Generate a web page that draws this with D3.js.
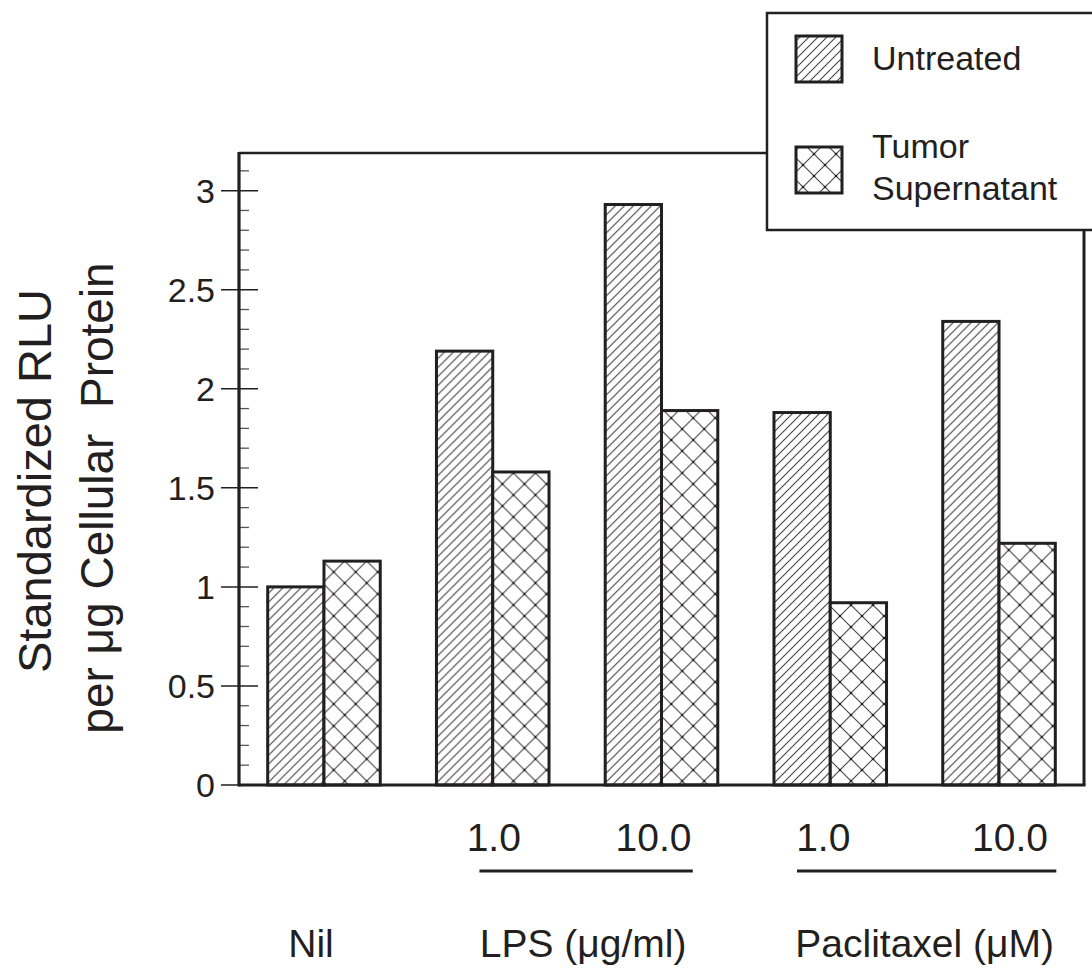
<!DOCTYPE html>
<html><head><meta charset="utf-8">
<script src="https://cdn.jsdelivr.net/npm/d3@7"></script>
<style>
html,body{margin:0;padding:0;background:#fff;}
svg text{font-family:"Liberation Sans",Arial,Helvetica,sans-serif;fill:#231f20;}
</style></head>
<body>
<svg id="chart" width="1092" height="968"></svg>
<script>
// ---- data ----
const categories = ["Nil", "LPS 1.0", "LPS 10.0", "Paclitaxel 1.0", "Paclitaxel 10.0"];
const seriesNames = ["Untreated", "Tumor Supernatant"];
const untreated = [1.00, 2.19, 2.93, 1.88, 2.34];
const tumorSupernatant = [1.13, 1.58, 1.89, 0.92, 1.22];
const doseLabels = ["", "1.0", "10.0", "1.0", "10.0"];
const groupLabels = ["Nil", "LPS (\u03bcg/ml)", "Paclitaxel (\u03bcM)"];
const groupMembers = [[0], [1, 2], [3, 4]];
const yTicks = [0, 0.5, 1, 1.5, 2, 2.5, 3];
const yTickLabels = ["0", "0.5", "1", "1.5", "2", "2.5", "3"];

(function () {
// ---- layout ----
const ink = "#231f20";
const pLeft = 239, pRight = 1084, pBottom = 785, pTop = 153;
const svg = d3.select("#chart");

const x = d3.scaleBand().domain(categories).range([pLeft, pRight]).paddingInner(0.333).paddingOuter(0.17);
const xs = d3.scaleBand().domain(seriesNames).range([0, x.bandwidth()]);
const y = d3.scaleLinear().domain([0, 3.19]).range([pBottom, pTop]);

// patterns
const defs = svg.append("defs");
const hw = 9;
const p1 = defs.append("pattern").attr("id", "hatch").attr("patternUnits", "userSpaceOnUse")
  .attr("width", hw).attr("height", hw);
p1.append("rect").attr("width", hw).attr("height", hw).attr("fill", "#fff");
p1.append("path")
  .attr("d", `M0,${hw} L${hw},0 M${-hw},${hw} L0,0 M${hw},${2*hw} L${2*hw},${hw} M-1,1 L1,-1 M${hw-1},${hw+1} L${hw+1},${hw-1}`)
  .attr("stroke", "#444").attr("stroke-width", 1.1);

const cw = 22;
const p2 = defs.append("pattern").attr("id", "cross").attr("patternUnits", "userSpaceOnUse")
  .attr("width", cw).attr("height", cw);
p2.append("rect").attr("width", cw).attr("height", cw).attr("fill", "#fff");
p2.append("path").attr("d", `M0,0 L${cw},${cw} M0,${cw} L${cw},0`)
  .attr("stroke", "#444").attr("stroke-width", 1.1);
[[cw/2,cw/2],[0,0],[cw,0],[0,cw],[cw,cw]].forEach(p => p2.append("circle")
  .attr("cx", p[0]).attr("cy", p[1]).attr("r", 1.3).attr("fill", "#222"));

const fills = {"Untreated": "url(#hatch)", "Tumor Supernatant": "url(#cross)"};

// frame (top and right)
svg.append("line").attr("x1", pLeft).attr("x2", pRight).attr("y1", pTop).attr("y2", pTop)
  .attr("stroke", ink).attr("stroke-width", 2.5);
svg.append("line").attr("x1", pRight).attr("x2", pRight).attr("y1", pTop).attr("y2", pBottom)
  .attr("stroke", ink).attr("stroke-width", 3);

// bars
const rows = categories.map((c, i) => ({cat: c, vals: [
  {s: seriesNames[0], v: untreated[i]}, {s: seriesNames[1], v: tumorSupernatant[i]}]}));
const g = svg.append("g").selectAll("g").data(rows).join("g")
  .attr("transform", d => `translate(${x(d.cat)},0)`);
g.selectAll("rect").data(d => d.vals).join("rect")
  .attr("x", d => xs(d.s)).attr("width", xs.bandwidth())
  .attr("y", d => y(d.v)).attr("height", d => y(0) - y(d.v))
  .attr("fill", d => fills[d.s]).attr("stroke", ink).attr("stroke-width", 3);

// y axis minor ticks
const minor = d3.range(0, 32).map(i => i / 10).filter((v, i) => i % 5 !== 0);
svg.append("g").selectAll("line").data(minor).join("line")
  .attr("x1", pLeft).attr("x2", pLeft + 10).attr("y1", d => y(d)).attr("y2", d => y(d))
  .attr("stroke", "#555").attr("stroke-width", 1.3);
// major ticks
svg.append("g").selectAll("line").data(yTicks).join("line")
  .attr("x1", pLeft - 18).attr("x2", pLeft + 19).attr("y1", d => y(d)).attr("y2", d => y(d))
  .attr("stroke", ink).attr("stroke-width", 1.5);
svg.append("g").selectAll("text").data(yTicks).join("text")
  .attr("x", 215).attr("y", d => y(d)).attr("dy", "0.36em").attr("text-anchor", "end")
  .attr("font-size", 34).text((d, i) => yTickLabels[i]);

// axis lines
svg.append("line").attr("x1", pLeft).attr("x2", pLeft).attr("y1", pTop - 1).attr("y2", pBottom + 1.5)
  .attr("stroke", ink).attr("stroke-width", 3.2);
svg.append("line").attr("x1", pLeft).attr("x2", pRight + 1.5).attr("y1", pBottom).attr("y2", pBottom)
  .attr("stroke", ink).attr("stroke-width", 3.2);

// y title
svg.append("text").attr("transform", "translate(51,481) rotate(-90)")
  .attr("text-anchor", "middle").attr("font-size", 47).text("Standardized RLU");
svg.append("text").attr("transform", "translate(113,498) rotate(-90)")
  .attr("text-anchor", "middle").attr("font-size", 46).style("white-space", "pre")
  .text("per \u03bcg Cellular  Protein");

// dose labels
const doseDx = [0, 1, -8, -7, 11];
svg.append("g").selectAll("text").data(categories).join("text")
  .attr("x", (d, i) => x(d) + x.bandwidth() / 2 + doseDx[i]).attr("y", 851)
  .attr("text-anchor", "middle").attr("font-size", 39).text((d, i) => doseLabels[i]);

// underlines for groups
const underline = [null, [43, -25], [23, 1]];
groupMembers.forEach((m, gi) => {
  if (!underline[gi]) return;
  const x1 = x(categories[m[0]]) + underline[gi][0];
  const x2 = x(categories[m[m.length - 1]]) + x.bandwidth() + underline[gi][1];
  svg.append("line").attr("x1", x1).attr("x2", x2).attr("y1", 871).attr("y2", 871)
    .attr("stroke", ink).attr("stroke-width", 3);
});

// group labels
const groupDx = [-13, 6, 10];
svg.append("g").selectAll("text").data(groupLabels).join("text")
  .attr("x", (d, gi) => {
    const m = groupMembers[gi];
    return (x(categories[m[0]]) + x(categories[m[m.length - 1]]) + x.bandwidth()) / 2 + groupDx[gi];
  })
  .attr("y", 957).attr("text-anchor", "middle").attr("font-size", 39)
  .text(d => d);

// legend
const lg = svg.append("g");
lg.append("rect").attr("x", 767).attr("y", 13).attr("width", 400).attr("height", 217)
  .attr("fill", "#fff").attr("stroke", ink).attr("stroke-width", 2.5);
const legY = [36, 147];
seriesNames.forEach((s, i) => {
  lg.append("rect").attr("x", 796).attr("y", legY[i]).attr("width", 46).attr("height", 46)
    .attr("fill", fills[s]).attr("stroke", ink).attr("stroke-width", 3);
});
lg.append("text").attr("x", 872).attr("y", 70).attr("font-size", 34).text(seriesNames[0]);
const t2 = lg.append("text").attr("x", 872).attr("y", 158).attr("font-size", 34);
t2.append("tspan").attr("x", 872).text("Tumor");
t2.append("tspan").attr("x", 872).attr("dy", 42).text("Supernatant");
})();
</script>
</body></html>
